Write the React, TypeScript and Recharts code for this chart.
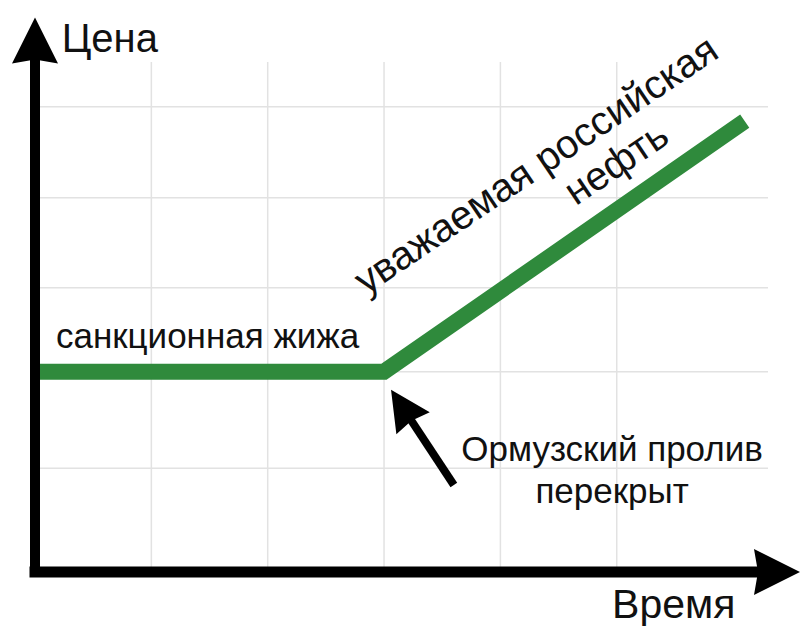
import React from "react"
import {
  LineChart, Line, XAxis, YAxis, CartesianGrid,
  ReferenceDot, ReferenceLine
} from "recharts"

// the green line: time -> price
const timePoints = [0, 3, 6.1]
const pricePoints = [2.2, 2.2, 4.95]

// grid positions
const xGrid = [1, 2, 3, 4, 5]
const yGrid = [1.14, 2.2, 3.12, 4.11, 5.11]

const xDomain = [0, 6.3]
const yDomain = [0, 5.6]

// axis arrow tips
const xAxisTip = { x: 6.575, y: 0 }
const yAxisTip = { x: 0, y: 6.09 }

// annotation arrow (tail -> tip)
const hormuzArrow = [{ x: 3.6, y: 0.955 }, { x: 3.06, y: 2.0 }]

const axisTitles = [
  { text: "Цена", x: 0.23, y: 5.71, anchor: "start", size: 40 },
  { text: "Время", x: 6.02, y: -0.505, anchor: "end", size: 41 },
]

const notes = [
  { text: "санкционная жижа", x: 0.18, y: 2.46, anchor: "start", size: 35, angle: 0 },
  { text: "Ормузский пролив", x: 4.96, y: 1.22, anchor: "middle", size: 35, angle: 0 },
  { text: "перекрыт", x: 4.96, y: 0.76, anchor: "middle", size: 35, angle: 0 },
  { text: "уважаемая российская", x: 4.37, y: 4.35, anchor: "middle", size: 40, angle: -34 },
  { text: "нефть", x: 5.06, y: 4.37, anchor: "middle", size: 40, angle: -34 },
]

const data = timePoints.map((t, i) => ({ t, price: pricePoints[i] }))

const FONT = "'Liberation Sans', Arial, Helvetica, sans-serif"

const noTick = () => <g />

export default function App() {
  const renderText = (n: any) => (p: any) => (
    <text
      x={p.cx}
      y={p.cy}
      textAnchor={n.anchor}
      fontSize={n.size}
      fontFamily={FONT}
      fill="#111"
      transform={n.angle ? `rotate(${n.angle}, ${p.cx}, ${p.cy})` : undefined}
    >
      {n.text}
    </text>
  )

  return (
    <div style={{ position: "absolute", left: 0, top: 0, width: 800, height: 631, background: "#fff" }}>
      <LineChart
        width={800}
        height={631}
        data={data}
        margin={{ top: 62, right: 32, bottom: 58, left: 34 }}
      >
        <CartesianGrid
          stroke="#e2e2e2"
          strokeWidth={1.5}
          horizontalValues={yGrid}
          verticalValues={xGrid}
        />
        <XAxis
          dataKey="t"
          type="number"
          domain={xDomain}
          ticks={xGrid}
          tick={noTick}
          tickLine={false}
          height={1}
          axisLine={{ stroke: "#000", strokeWidth: 11, strokeLinecap: "square" }}
        />
        <YAxis
          type="number"
          domain={yDomain}
          ticks={yGrid}
          tick={noTick}
          tickLine={false}
          width={1}
          axisLine={{ stroke: "#000", strokeWidth: 10, strokeLinecap: "square" }}
        />
        <Line
          type="linear"
          dataKey="price"
          stroke="#2f8a3c"
          strokeWidth={16}
          strokeLinejoin="miter"
          dot={false}
          activeDot={false}
          isAnimationActive={false}
        />

        {/* arrow heads on axes */}
        <ReferenceDot
          x={xAxisTip.x}
          y={xAxisTip.y}
          ifOverflow="visible"
          shape={(p: any) => (
            <polygon
              points={`${p.cx},${p.cy} ${p.cx - 46},${p.cy - 23} ${p.cx - 42},${p.cy} ${p.cx - 46},${p.cy + 23}`}
              fill="#000"
            />
          )}
        />
        <ReferenceDot
          x={yAxisTip.x}
          y={yAxisTip.y}
          ifOverflow="visible"
          shape={(p: any) => (
            <polygon
              points={`${p.cx},${p.cy} ${p.cx + 23},${p.cy + 46} ${p.cx},${p.cy + 42} ${p.cx - 23},${p.cy + 46}`}
              fill="#000"
            />
          )}
        />

        {/* Hormuz arrow */}
        <ReferenceLine
          segment={hormuzArrow}
          ifOverflow="visible"
          shape={(p: any) => {
            const { x1, y1, x2, y2 } = p
            const dx = x2 - x1
            const dy = y2 - y1
            const len = Math.sqrt(dx * dx + dy * dy)
            const ux = dx / len
            const uy = dy / len
            const head = 40
            const half = 20
            const bx = x2 - ux * head
            const by = y2 - uy * head
            return (
              <g>
                <line x1={x1} y1={y1} x2={bx + ux * 4} y2={by + uy * 4} stroke="#000" strokeWidth={8} />
                <polygon
                  points={`${x2},${y2} ${bx - uy * half},${by + ux * half} ${bx + ux * 3},${by + uy * 3} ${bx + uy * half},${by - ux * half}`}
                  fill="#000"
                />
              </g>
            )
          }}
        />

        {axisTitles.map((n) => (
          <ReferenceDot key={n.text} x={n.x} y={n.y} ifOverflow="visible" shape={renderText(n)} />
        ))}
        {notes.map((n) => (
          <ReferenceDot key={n.text} x={n.x} y={n.y} ifOverflow="visible" shape={renderText(n)} />
        ))}
      </LineChart>
    </div>
  )
}
